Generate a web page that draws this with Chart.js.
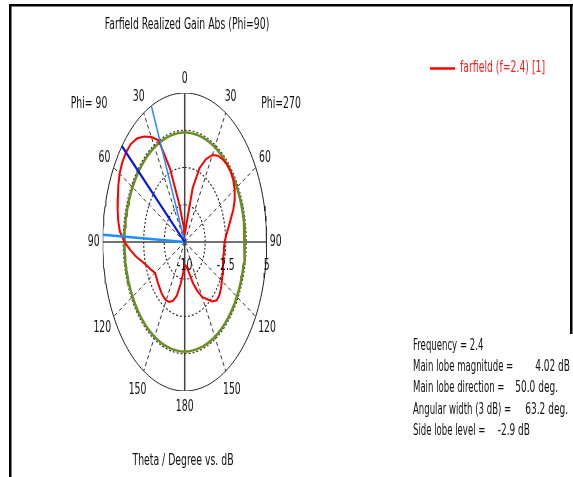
<!DOCTYPE html>
<html>
<head>
<meta charset="utf-8">
<script src="https://cdn.jsdelivr.net/npm/chart.js@4.4.0/dist/chart.umd.min.js"></script>
<style>
  html, body { margin: 0; padding: 0; background: #fff; }
  canvas { display: block; }
</style>
</head>
<body>
<canvas id="farfield" width="573" height="477"></canvas>
<script>
// theta in degrees, gain in dB
const thetaDeg = [0, 5, 10, 15, 20, 25, 30, 35, 40, 45, 50, 55, 60, 65, 70, 75, 80, 85, 90,
  95, 100, 105, 110, 115, 120, 125, 130, 135, 140, 145, 150, 155, 160, 165, 170, 175, 180];
// Phi = 90 half (drawn on the left)
const gainPhi90 = [-9.2, -8.6, -7.9, -5.9, -2.1, 1.3, 2.2, 2.95, 3.6, 3.95, 4.02, 3.95, 3.75, 3.4, 3.0, 2.7, 2.35, 1.9, 1.0,
  -0.1, -1.1, -2.1, -2.8, -3.3, -3.75, -3.7, -3.6, -3.5, -3.35, -3.25, -3.2, -3.35, -3.7, -4.4, -5.7, -6.9, -7.7];
// Phi = 270 half (drawn on the right)
const gainPhi270 = [-9.2, -8.9, -8.2, -4.4, -2.1, -0.8, 0.1, 0.6, 0.85, 1.0, 1.0, 0.85, 0.55, 0.1, -0.55, -1.3, -1.9, -2.4, -2.7,
  -2.8, -2.8, -2.75, -2.55, -2.35, -2.15, -1.9, -1.7, -1.7, -2.2, -3.0, -3.6, -4.6, -5.6, -6.7, -7.3, -7.6, -7.7];

const angleTicks = [0, 30, 60, 90, 120, 150, 180];
const ringTicks = [-6.25, -2.5, 1.25];
const ringLabels = [-10, -2.5, 5];
const rMin = -10;
const rMax = 5;

const mainLobeDir = 50;
const beamEdges = [24, 87.2];
const threeDbLevel = 1.02;

const legendLabel = 'farfield (f=2.4) [1]';
const infoLabels = ['Frequency = 2.4', 'Main lobe magnitude =', 'Main lobe direction =', 'Angular width (3 dB) =', 'Side lobe level ='];
const infoValues = ['', '4.02 dB', '50.0 deg.', '63.2 deg.', '-2.9 dB'];

const SPAN = rMax - rMin;

// side: -1 = Phi 90 (left), +1 = Phi 270 (right)
function toXY(theta, dB, side) {
  const r = Math.max(0, dB - rMin);
  const a = theta * Math.PI / 180;
  return { x: side * r * Math.sin(a), y: r * Math.cos(a) };
}

function ring(dB) {
  const pts = [];
  for (let t = 0; t <= 360; t += 2) pts.push(toXY(t, dB, 1));
  return pts;
}

function ray(theta, side, dB) {
  return [toXY(theta, rMin, side), toXY(theta, dB, side)];
}

const curve = thetaDeg.map((t, i) => toXY(t, gainPhi90[i], -1))
  .concat(thetaDeg.slice().reverse().map((t, i) => toXY(t, gainPhi270[thetaDeg.length - 1 - i], 1)));

const datasets = [];
const line = (data, color, width, dash, order) => datasets.push({
  data, showLine: true, borderColor: color, borderWidth: width, borderDash: dash || [],
  pointRadius: 0, fill: false, order
});

// grid
ringTicks.forEach(v => line(ring(v), '#222', 1.1, [2, 2], 10));
line(ring(rMax), '#222', 1, [], 10);
angleTicks.filter(a => a % 90 !== 0).forEach(a => {
  line(ray(a, -1, rMax), '#333', 1, [4, 3], 10);
  line(ray(a, 1, rMax), '#333', 1, [4, 3], 10);
});
line([toXY(0, rMax, 1), toXY(180, rMax, 1)], '#444', 1.5, [], 9);
line([toXY(90, rMax, -1), toXY(90, rMax, 1)], '#444', 1.5, [], 9);

// 3 dB circle and lobe markers
line(ring(threeDbLevel), '#6b8e23', 2.5, [], 5);
line(curve, '#ff0000', 2, [], 3);
line(ray(mainLobeDir, -1, rMax), '#0a14e6', 2.2, [], 2);
line(ray(beamEdges[0], -1, rMax), '#1e90ff', 1.5, [], 2);
line(ray(beamEdges[1], -1, rMax), '#1e90ff', 2.5, [], 2);

const FONT = '15px "DejaVu Sans"';

function drawText(ctx, str, x, y, align, color, squeeze) {
  ctx.save();
  ctx.translate(x, y);
  ctx.scale(squeeze || 0.62, 1);
  ctx.font = FONT;
  ctx.fillStyle = color || '#111';
  ctx.textAlign = align || 'center';
  ctx.textBaseline = 'middle';
  ctx.fillText(str, 0, 0);
  ctx.restore();
}

// distance of angle labels from the center, in units of the outer radius
const labelRadius = { 0: 1.09, 30: 1.12, 60: 1.13, 90: 1.11, 120: 1.16, 150: 1.15, 180: 1.11 };

const textPlugin = {
  id: 'texts',
  afterDraw(chart) {
    const ctx = chart.ctx;
    const sx = chart.scales.x, sy = chart.scales.y;
    const px = p => sx.getPixelForValue(p.x);
    const py = p => sy.getPixelForValue(p.y);

    // frame
    ctx.fillStyle = '#000';
    ctx.fillRect(9, 4, 564, 2.5);
    ctx.fillRect(9, 4, 2.5, 473);
    ctx.fillRect(570, 4, 2.5, 330);

    drawText(ctx, 'Farfield Realized Gain Abs (Phi=90)', 187, 25);
    drawText(ctx, 'Theta / Degree vs. dB', 183, 461);
    drawText(ctx, 'Phi= 90', 89, 104);
    drawText(ctx, 'Phi=270', 281, 104);

    angleTicks.forEach(a => {
      const k = labelRadius[a];
      [-1, 1].forEach(side => {
        if ((a === 0 || a === 180) && side === 1) return;
        const p = toXY(a, rMin + SPAN * k, side);
        drawText(ctx, String(a), px(p), py(p));
      });
    });

    const yAxis = sy.getPixelForValue(0) + 24;
    ringLabels.forEach(v => {
      const p = toXY(90, v, 1);
      drawText(ctx, String(v), px(p), yAxis);
    });

    // legend
    ctx.save();
    ctx.strokeStyle = '#ff0000';
    ctx.lineWidth = 2.5;
    ctx.beginPath();
    ctx.moveTo(430, 68.5);
    ctx.lineTo(455, 68.5);
    ctx.stroke();
    ctx.restore();
    drawText(ctx, legendLabel, 460, 68, 'left', '#ff1a1a');

    // info block, values right-aligned at the end of each line
    const valueEnd = [0, 570, 558, 568, 530];
    infoLabels.forEach((s, i) => {
      const y = 346 + i * 21.3;
      drawText(ctx, s, 413, y, 'left', '#111', 0.57);
      if (infoValues[i]) drawText(ctx, infoValues[i], valueEnd[i], y, 'right', '#111', 0.6);
    });
  }
};

new Chart(document.getElementById('farfield'), {
  type: 'scatter',
  data: { datasets },
  options: {
    responsive: false,
    animation: false,
    devicePixelRatio: 1,
    layout: { padding: { left: 102.7, right: 306.3, top: 93, bottom: 86 } },
    scales: {
      x: { type: 'linear', min: -SPAN, max: SPAN, display: false },
      y: { type: 'linear', min: -SPAN, max: SPAN, display: false }
    },
    plugins: { legend: { display: false }, tooltip: { enabled: false } }
  },
  plugins: [textPlugin]
});
</script>
</body>
</html>
